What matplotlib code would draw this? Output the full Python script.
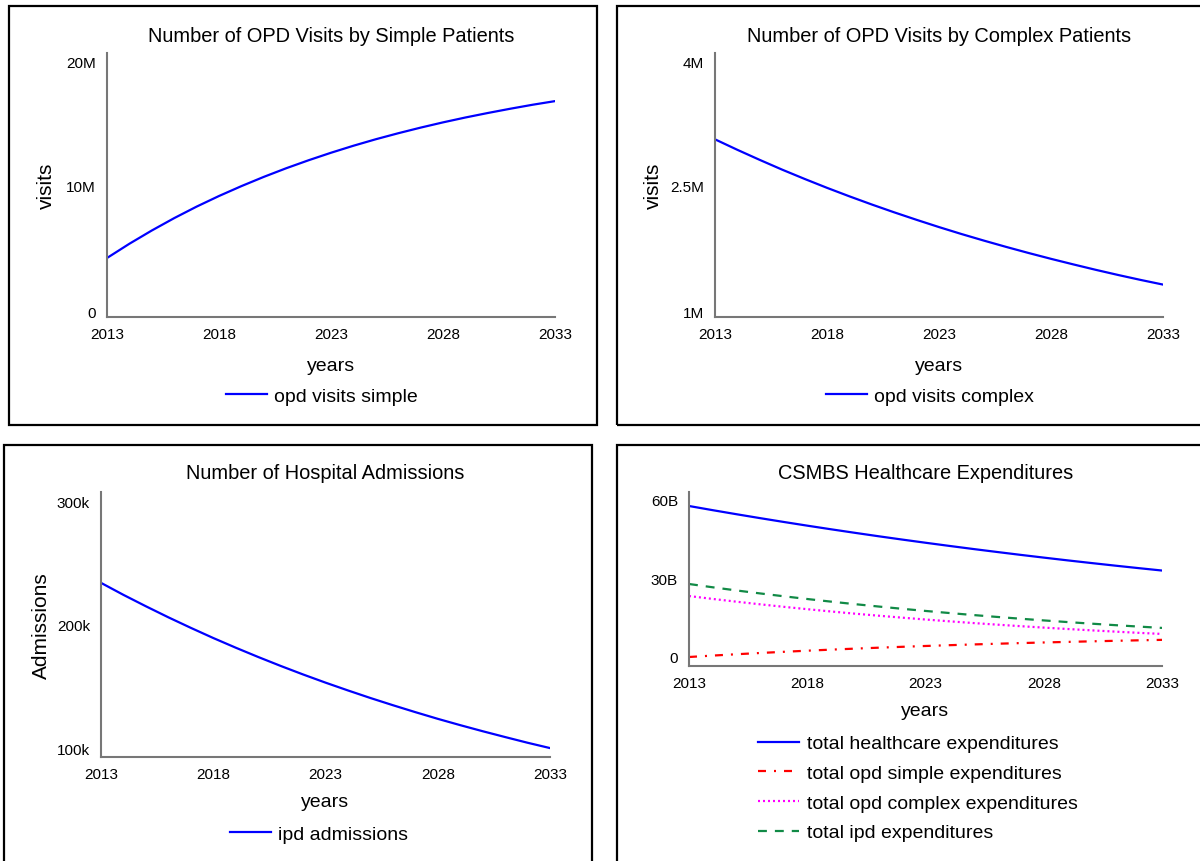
import matplotlib.pyplot as plt
from matplotlib.patches import Rectangle

plt.rcParams['font.family'] = ['Liberation Sans', 'DejaVu Sans']

years = list(range(2013, 2034))

opd_visits_simple = [4.24, 5.38, 6.44, 7.43, 8.35, 9.20, 9.99, 10.73, 11.42, 12.06, 12.66,
                     13.22, 13.74, 14.22, 14.67, 15.09, 15.48, 15.84, 16.18, 16.50, 16.79]  # millions
opd_visits_complex = [3.060, 2.934, 2.813, 2.696, 2.585, 2.478, 2.376, 2.278, 2.184, 2.094, 2.007,
                      1.924, 1.845, 1.769, 1.696, 1.626, 1.559, 1.494, 1.432, 1.373, 1.317]  # millions
ipd_admissions = [234.0, 224.3, 215.1, 206.2, 197.7, 189.5, 181.7, 174.2, 167.0, 160.1, 153.5,
                  147.2, 141.1, 135.3, 129.7, 124.3, 119.2, 114.3, 109.6, 105.0, 100.7]  # thousands

# billions
total_exp = [57.70, 56.11, 54.57, 53.07, 51.61, 50.19, 48.81, 47.47, 46.16, 44.89, 43.66,
             42.46, 41.29, 40.16, 39.05, 37.98, 36.93, 35.92, 34.93, 33.97, 33.04]
opd_simple_exp = [0.00, 0.54, 1.05, 1.53, 1.98, 2.41, 2.81, 3.19, 3.55, 3.89, 4.21,
                  4.51, 4.79, 5.06, 5.31, 5.55, 5.77, 5.98, 6.18, 6.37, 6.55]
opd_complex_exp = [23.30, 22.19, 21.14, 20.14, 19.18, 18.27, 17.40, 16.57, 15.79, 15.04, 14.32,
                   13.64, 12.99, 12.38, 11.79, 11.23, 10.70, 10.19, 9.71, 9.24, 8.81]
ipd_exp = [27.90, 26.64, 25.44, 24.30, 23.21, 22.16, 21.16, 20.21, 19.30, 18.43, 17.60,
           16.81, 16.05, 15.33, 14.64, 13.98, 13.35, 12.75, 12.18, 11.63, 11.11]

xticks = [2013, 2018, 2023, 2028, 2033]

W, H = 1200, 862
fig = plt.figure(figsize=(12, 8.62), dpi=100)


def fx(px):
    return px / W


def fy(py):
    return 1 - py / H


def box(x0, y0, x1, y1):
    fig.patches.append(Rectangle((fx(x0), fy(y1)), fx(x1) - fx(x0), fy(y0) - fy(y1),
                                 transform=fig.transFigure, fill=False,
                                 edgecolor='black', linewidth=1.6))


def make_axes(left, top, right, bottom):
    ax = fig.add_axes([fx(left), fy(bottom), fx(right) - fx(left), fy(top) - fy(bottom)])
    for s in ['top', 'right']:
        ax.spines[s].set_visible(False)
    for s in ['left', 'bottom']:
        ax.spines[s].set_color('#777777')
        ax.spines[s].set_linewidth(1.5)
    ax.tick_params(length=0, labelsize=11)
    ax.tick_params(axis='x', pad=7)
    ax.tick_params(axis='y', pad=8)
    ax.set_xlim(2013, 2033)
    ax.set_xticks(xticks)
    ax.set_xticklabels([str(y) for y in xticks])
    return ax


box(9, 7, 597, 426)
box(617, 7, 1210, 426)
box(4, 446, 592, 870)
box(617, 446, 1210, 870)

leg_kw = dict(frameon=False, fontsize=14, handlelength=2.1, handletextpad=0.4,
              bbox_transform=fig.transFigure, loc='center')

# top-left
ax1 = make_axes(107, 54, 555, 318)
ax1.plot(years, opd_visits_simple, color='#0000ff', lw=1.6, label='opd visits simple')
ax1.set_ylim(-0.48, 20.64)
ax1.set_yticks([0, 10, 20])
ax1.set_yticklabels(['0', '10M', '20M'])
ax1.set_title('Number of OPD Visits by Simple Patients', fontsize=14.4, pad=9)
ax1.set_xlabel('years', fontsize=14, labelpad=12)
ax1.set_ylabel('visits', fontsize=15, labelpad=7)
ax1.legend(bbox_to_anchor=(fx(322), fy(397)), **leg_kw)

# top-right
ax2 = make_axes(715, 54, 1163, 318)
ax2.plot(years, opd_visits_complex, color='#0000ff', lw=1.6, label='opd visits complex')
ax2.set_ylim(0.928, 4.096)
ax2.set_yticks([1, 2.5, 4])
ax2.set_yticklabels(['1M', '2.5M', '4M'])
ax2.set_title('Number of OPD Visits by Complex Patients', fontsize=14.4, pad=9)
ax2.set_xlabel('years', fontsize=14, labelpad=12)
ax2.set_ylabel('visits', fontsize=15, labelpad=5)
ax2.legend(bbox_to_anchor=(fx(930), fy(397)), **leg_kw)

# bottom-left
ax3 = make_axes(101, 493, 550, 758)
ax3.plot(years, ipd_admissions, color='#0000ff', lw=1.6, label='ipd admissions')
ax3.set_ylim(93.5, 307.3)
ax3.set_yticks([100, 200, 300])
ax3.set_yticklabels(['100k', '200k', '300k'])
ax3.set_title('Number of Hospital Admissions', fontsize=14.4, pad=10)
ax3.set_xlabel('years', fontsize=14, labelpad=9)
ax3.set_ylabel('Admissions', fontsize=15, labelpad=4)
ax3.legend(bbox_to_anchor=(fx(319), fy(835)), **leg_kw)

# bottom-right
ax4 = make_axes(689, 493, 1162, 667)
ax4.plot(years, total_exp, color='#0000ff', lw=1.6, label='total healthcare expenditures')
ax4.plot(years, opd_simple_exp, color='#ff0000', lw=1.6, dashes=(3.6, 3.6, 0.9, 3.6),
         label='total opd simple expenditures')
ax4.plot(years, opd_complex_exp, color='#ff00ff', lw=1.6, dashes=(0.9, 1.35),
         label='total opd complex expenditures')
ax4.plot(years, ipd_exp, color='#118a46', lw=1.6, dashes=(4.0, 3.6),
         label='total ipd expenditures')
ax4.set_ylim(-3.44, 63.05)
ax4.set_yticks([0, 30, 60])
ax4.set_yticklabels(['0', '30B', '60B'])
ax4.set_title('CSMBS Healthcare Expenditures', fontsize=14.4, pad=10)
ax4.set_xlabel('years', fontsize=14, labelpad=9)
leg = ax4.legend(bbox_to_anchor=(fx(918), fy(789)), labelspacing=0.62, **leg_kw)

fig.savefig('out.png', dpi=100)
